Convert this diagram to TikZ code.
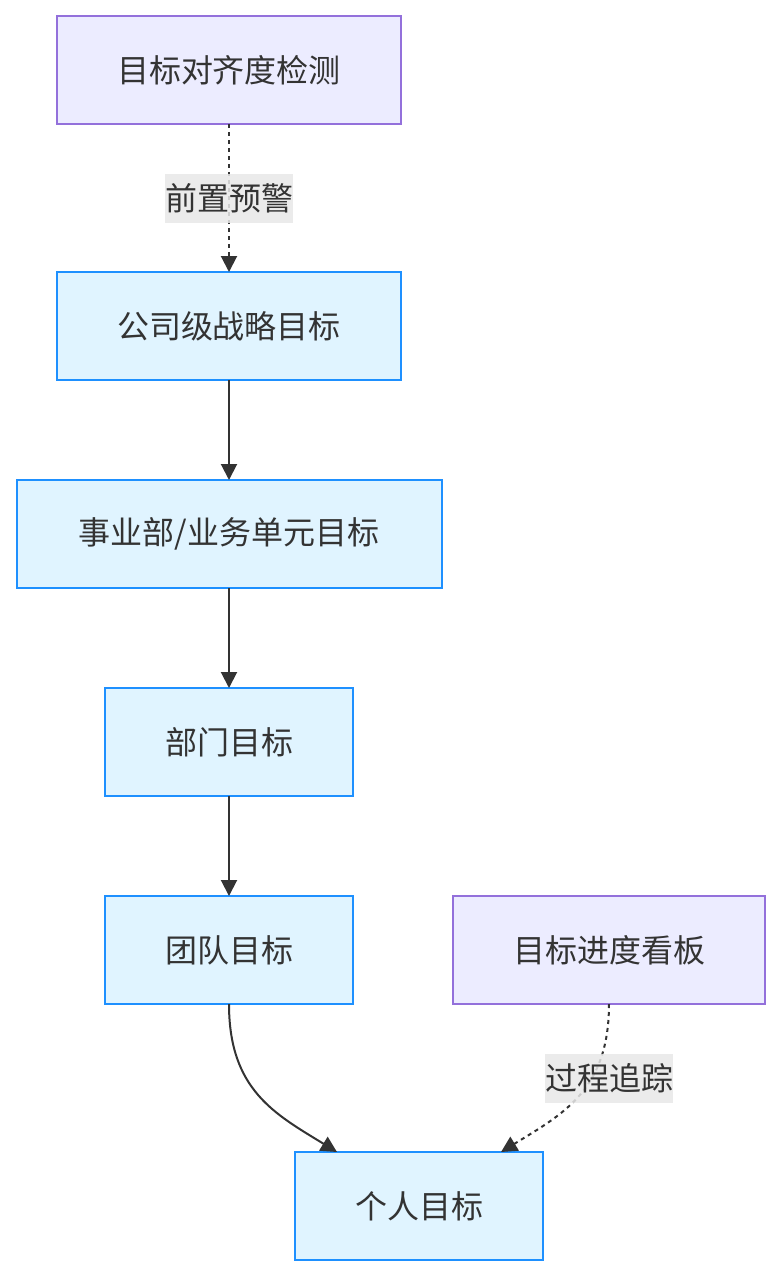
\documentclass[tikz,border=0pt]{standalone}
\usepackage{fontspec}
\setmainfont{Noto Sans CJK SC}
\usetikzlibrary{arrows.meta,positioning}
\definecolor{goalfill}{HTML}{E0F4FF}
\definecolor{goaldraw}{HTML}{1E90FF}
\definecolor{toolfill}{HTML}{ECECFF}
\definecolor{tooldraw}{HTML}{9370DB}
\definecolor{lblgray}{HTML}{E8E8E8}
\definecolor{ink}{HTML}{333333}

\begin{document}
\begin{tikzpicture}[
  x=0.5pt,y=-0.5pt,
  goal/.style={rectangle,draw=goaldraw,fill=goalfill,line width=1pt,outer sep=0pt,
               minimum height=54pt,font=\fontsize{16}{19}\selectfont,text=ink},
  tool/.style={rectangle,draw=tooldraw,fill=toolfill,line width=1pt,outer sep=0pt,
               minimum height=54pt,font=\fontsize{16}{19}\selectfont,text=ink},
  lbl/.style ={fill=lblgray,fill opacity=0.85,text opacity=1,inner xsep=0pt,
               minimum height=24.5pt,font=\fontsize{16}{19}\selectfont,text=ink},
  arr/.style ={-{Triangle[length=8pt,width=8pt]},line width=1pt,draw=ink},
  dot/.style ={dash pattern=on 2pt off 2pt}
]
\useasboundingbox (0,0) rectangle (780,1276);

\node[tool,minimum width=172pt] at (229,70)(check){目标对齐度检测};
\node[goal,minimum width=172pt,below=74pt of check](corp){公司级战略目标};
\node[goal,minimum width=212.5pt,below=50pt of corp](unit){事业部/业务单元目标};
\node[goal,minimum width=124pt,below=50pt of unit](dept){部门目标};
\node[goal,minimum width=124pt,below=50pt of dept](team){团队目标};
\node[tool,minimum width=156pt,right=50pt of team](board){目标进度看板};
\node[goal,minimum width=124pt] at (419,1206)(self){个人目标};

\draw[arr,dot](check)--node[lbl]{前置预警}(corp);
\draw[arr](corp)--(corp.south|-unit.north);
\draw[arr](unit.south-|dept.north)--(dept);
\draw[arr](dept)--(team);
\draw[arr](team.south) .. controls +(0,86) and +(-62,-38) .. ([xshift=-41pt]self.north);
\draw[arr,dot](board.south) .. controls +(0,86) and +(62,-38) .. ([xshift=41pt]self.north);
\node[lbl] at (609,1078)(track){过程追踪};
\end{tikzpicture}
\end{document}
